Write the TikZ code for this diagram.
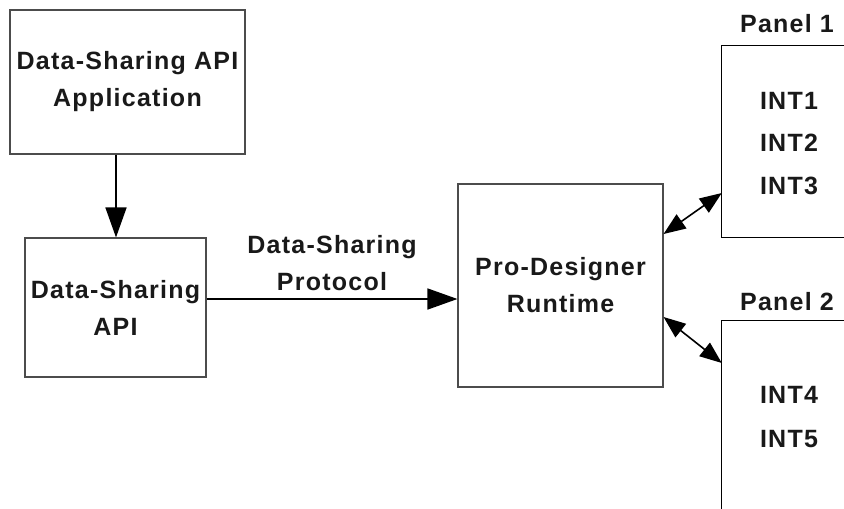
\documentclass[tikz,border=0pt]{standalone}
\usepackage{fontspec}
\setmainfont{Liberation Sans}[LetterSpace=5]
\usetikzlibrary{arrows.meta}
\begin{document}
\begin{tikzpicture}[x=1pt,y=-1pt,
  every node/.style={font=\fontsize{25}{37}\selectfont\bfseries, text=black!90},
  box/.style={draw=black!70, line width=1.1pt, inner sep=0pt, align=center},
  ghost/.style={inner sep=0pt},
  bigarrow/.style={line width=1.6pt, -{Triangle[length=30pt,width=21pt]}},
  dbl/.style={line width=1.6pt, {Triangle[length=22pt,width=17pt]}-{Triangle[length=22pt,width=17pt]}},
  panelline/.style={draw=black, line width=1.1pt},
  lbl/.style={inner sep=0pt, align=center}]
\useasboundingbox (0,0) rectangle (844,509);
% boxes
\node[box, minimum width=235pt, minimum height=144pt] (app) at (127.5,82) {Data-Sharing API\\Application};
\node[box, minimum width=181pt, minimum height=139pt] (api) at (115.5,307.5) {Data-Sharing\\API};
\node[box, minimum width=205pt, minimum height=203pt] (rt) at (560.5,285.5) {Pro-Designer\\Runtime};
% panels (open on the right)
\node[ghost, minimum width=122pt, minimum height=191pt] (p1) at (783,141.5) {};
\node[ghost, minimum width=122pt, minimum height=188pt] (p2) at (783,415) {};
\draw[panelline] (p1.north east) -- (p1.north west) -- (p1.south west) -- (p1.south east);
\draw[panelline] (p2.north east) -- (p2.north west) -- (p2.south west);
\node[lbl] (p1t) at (787,24) {Panel 1};
\node[lbl] (p2t) at (787,302) {Panel 2};
\node[lbl] (i1) at (789,101) {INT1};
\node[lbl] (i2) at (789,143) {INT2};
\node[lbl] (i3) at (789,186) {INT3};
\node[lbl] (i4) at (789,395) {INT4};
\node[lbl] (i5) at (789,439) {INT5};
% connectors
\draw[bigarrow] (app.south -| 116,0) -- (api.north -| 116,0);
\draw[bigarrow] ([yshift=8.5pt]api.east) -- ([yshift=8.5pt]api.east -| rt.west)
  node[lbl, midway, above=7pt] (proto) {Data-Sharing\\Protocol};
\draw[dbl] ([yshift=51.5pt]rt.east) -- ([yshift=-51.5pt]p1.west);
\draw[dbl] ([yshift=-31.5pt]rt.east) -- ([yshift=52pt]p2.west);
\end{tikzpicture}
\end{document}
